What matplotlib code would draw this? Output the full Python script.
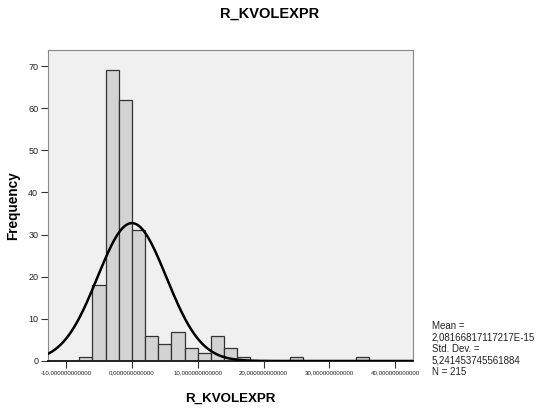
import numpy as np
import matplotlib
matplotlib.use('Agg')
import matplotlib.pyplot as plt
from matplotlib.ticker import FuncFormatter

# histogram data
bin_edges = [-8, -6, -4, -2, 0, 2, 4, 6, 8, 10, 12, 14, 16, 18,
             20, 22, 24, 26, 28, 30, 32, 34, 36]
counts = [1, 18, 69, 62, 31, 6, 4, 7, 3, 2, 6, 3, 1,
          0, 0, 0, 1, 0, 0, 0, 0, 1]

mean = 2.08166817117217e-15
std = 5.241453745561884
n = 215
title = 'R_KVOLEXPR'


def main():
   plt.rcParams['font.family'] = ['Liberation Sans', 'DejaVu Sans']
   fig = plt.figure(figsize=(5.39, 4.09), dpi=100)
   ax = fig.add_axes([48/539, 1 - 361/409, (413-48)/539, (361-50)/409])
   ax.set_facecolor('#f0f0f0')

   lefts = np.array(bin_edges[:-1])
   widths = np.diff(bin_edges)
   cts = np.array(counts)
   keep = cts > 0
   ax.bar(lefts[keep], cts[keep], width=widths[keep], align='edge',
          color='#d3d3d3', edgecolor='#333333', linewidth=0.9, zorder=2)

   # normal curve scaled to the histogram
   x = np.linspace(-13, 43, 400)
   bw = 2.0
   y = n * bw / (std * np.sqrt(2*np.pi)) * np.exp(-0.5*((x-mean)/std)**2)
   ax.plot(x, y, color='black', linewidth=1.8, zorder=3)

   ax.set_xlim(-12.75, 42.7)
   ax.set_ylim(0, 73.8)
   ax.set_xticks([-10, 0, 10, 20, 30, 40])
   ax.set_yticks([0, 10, 20, 30, 40, 50, 60, 70])
   ax.xaxis.set_major_formatter(FuncFormatter(
      lambda v, p: ('%.12f' % v).replace('.', ',')))
   ax.tick_params(axis='x', labelsize=4.4, length=5, color='#333333',
                  labelcolor='#222222', pad=2)
   ax.tick_params(axis='y', labelsize=6.5, length=5, color='#333333',
                  labelcolor='#222222', pad=2)

   for s in ['top', 'right', 'left']:
      ax.spines[s].set_color('#888888')
      ax.spines[s].set_linewidth(0.8)
   ax.spines['bottom'].set_color('#222222')
   ax.spines['bottom'].set_linewidth(1.4)

   ax.set_xlabel(title, fontsize=9.6, fontweight='bold', labelpad=12)
   ax.set_ylabel('Frequency', fontsize=9.8, fontweight='bold', labelpad=6)
   fig.text(0.5, 1 - 14/409, title, fontsize=10.5,
            fontweight='bold', ha='center', va='center')

   stats = 'Mean =\n%s\nStd. Dev. =\n%s\nN = %d' % (
      '2,08166817117217E-15', ('%.15f' % std).replace('.', ','), n)
   fig.text(432/539, 1 - 377/409, stats, fontsize=7, ha='left',
            va='bottom', linespacing=1.2, color='#222222')

   fig.savefig('out.png', dpi=100, facecolor='white')


if __name__ == '__main__':
   main()
